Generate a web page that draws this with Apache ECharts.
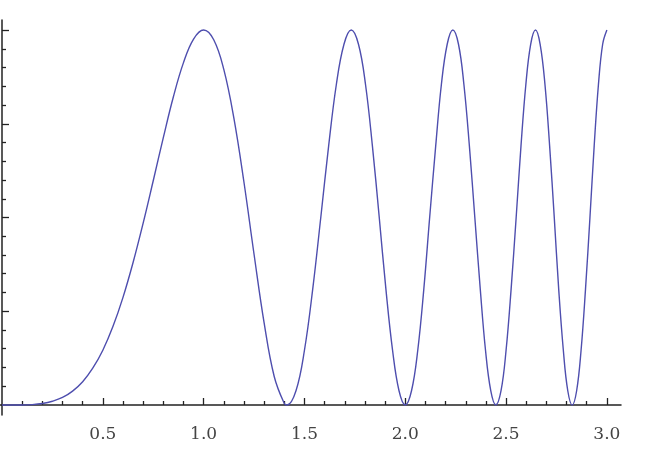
<!DOCTYPE html>
<html>
<head>
<meta charset="utf-8">
<script src="https://cdn.jsdelivr.net/npm/echarts@6/dist/echarts.min.js"></script>
<style>
html,body{margin:0;padding:0;background:#fff;}
#chart{width:657px;height:449px;}
</style>
</head>
<body>
<div id="chart"></div>
<script>
// Curve samples
const curveX = [0, 0.05, 0.1, 0.15, 0.2, 0.25, 0.3, 0.35, 0.4, 0.45, 0.5, 0.55, 0.6, 0.65,
  0.7, 0.75, 0.8, 0.85, 0.9, 0.95, 1.0, 1.05, 1.1, 1.15, 1.2, 1.25, 1.3, 1.35, 1.4,
  1.414, 1.458, 1.5, 1.541,
  1.581, 1.620, 1.658, 1.696, 1.732, 1.768, 1.803, 1.837, 1.871, 1.904, 1.937, 1.969,
  2.0, 2.031, 2.062, 2.092, 2.121, 2.151, 2.179, 2.208, 2.236, 2.264, 2.291, 2.318,
  2.345, 2.372, 2.398, 2.424, 2.449, 2.475, 2.5, 2.525, 2.550, 2.574, 2.598, 2.622,
  2.646, 2.669, 2.693, 2.716, 2.739, 2.761, 2.784, 2.806, 2.828, 2.850, 2.872, 2.894,
  2.916, 2.937, 2.958, 2.979, 3.0];
const curveY = [0, 0.000, 0.000, 0.001, 0.004, 0.010, 0.020, 0.037, 0.062, 0.098, 0.146, 0.209, 0.287, 0.380,
  0.485, 0.598, 0.713, 0.822, 0.913, 0.976, 1, 0.974, 0.895, 0.765, 0.594, 0.402, 0.219, 0.076, 0.004,
  0, 0.038, 0.146, 0.309,
  0.5, 0.691, 0.854, 0.962, 1, 0.962, 0.854, 0.691, 0.5, 0.309, 0.146, 0.038,
  0, 0.038, 0.146, 0.309, 0.5, 0.691, 0.854, 0.962, 1, 0.962, 0.854, 0.691,
  0.5, 0.309, 0.146, 0.038, 0, 0.038, 0.146, 0.309, 0.5, 0.691, 0.854, 0.962,
  1, 0.962, 0.854, 0.691, 0.5, 0.309, 0.146, 0.038, 0, 0.038, 0.146, 0.309,
  0.5, 0.691, 0.854, 0.962, 1];

// Tick positions
const xMajorTicks = [0.5, 1.0, 1.5, 2.0, 2.5, 3.0];
const xMinorTicks = [0.1, 0.2, 0.3, 0.4, 0.6, 0.7, 0.8, 0.9, 1.1, 1.2, 1.3, 1.4,
  1.6, 1.7, 1.8, 1.9, 2.1, 2.2, 2.3, 2.4, 2.6, 2.7, 2.8, 2.9];
const yMajorTicks = [0.25, 0.5, 0.75, 1.0];
const yMinorTicks = [0.05, 0.1, 0.15, 0.2, 0.3, 0.35, 0.4, 0.45, 0.55, 0.6, 0.65, 0.7,
  0.8, 0.85, 0.9, 0.95];

const xRange = [-0.01, 3.07];
const yRange = [-0.0267, 1.0267];

const data = curveX.map((x, i) => [x, curveY[i]]);
const axisColor = '#222';

const chart = echarts.init(document.getElementById('chart'), null, {renderer: 'canvas'});
chart.setOption({
  animation: false,
  backgroundColor: '#fff',
  grid: {left: 0, right: 36, top: 20, bottom: 34, containLabel: false},
  xAxis: [{
    type: 'value', min: xRange[0], max: xRange[1],
    axisLine: {onZero: true, lineStyle: {color: axisColor, width: 1.5}},
    axisTick: {show: true, inside: true, length: 7, customValues: xMajorTicks, lineStyle: {color: axisColor, width: 1.3}},
    axisLabel: {show: true, customValues: xMajorTicks, margin: 11,
      formatter: v => v.toFixed(1), color: '#444', fontFamily: 'DejaVu Serif', fontSize: 17},
    splitLine: {show: false}
  }, {
    type: 'value', min: xRange[0], max: xRange[1], position: 'bottom',
    axisLine: {show: false, onZero: true},
    axisTick: {show: true, inside: true, length: 4, customValues: xMinorTicks, lineStyle: {color: axisColor, width: 1.3}},
    axisLabel: {show: false},
    splitLine: {show: false}
  }],
  yAxis: [{
    type: 'value', min: yRange[0], max: yRange[1],
    axisLine: {show: true, onZero: true, lineStyle: {color: axisColor, width: 1.5}},
    axisTick: {show: true, inside: true, length: 7, customValues: yMajorTicks, lineStyle: {color: axisColor, width: 1.3}},
    axisLabel: {show: false},
    splitLine: {show: false}
  }, {
    type: 'value', min: yRange[0], max: yRange[1], position: 'left',
    axisLine: {show: false, onZero: true},
    axisTick: {show: true, inside: true, length: 4, customValues: yMinorTicks, lineStyle: {color: axisColor, width: 1.3}},
    axisLabel: {show: false},
    splitLine: {show: false}
  }],
  series: [{
    type: 'line', xAxisIndex: 0, yAxisIndex: 0,
    data: data, smooth: 0.4, showSymbol: false,
    lineStyle: {color: '#4e4eae', width: 1.4}
  }]
});
</script>
</body>
</html>
